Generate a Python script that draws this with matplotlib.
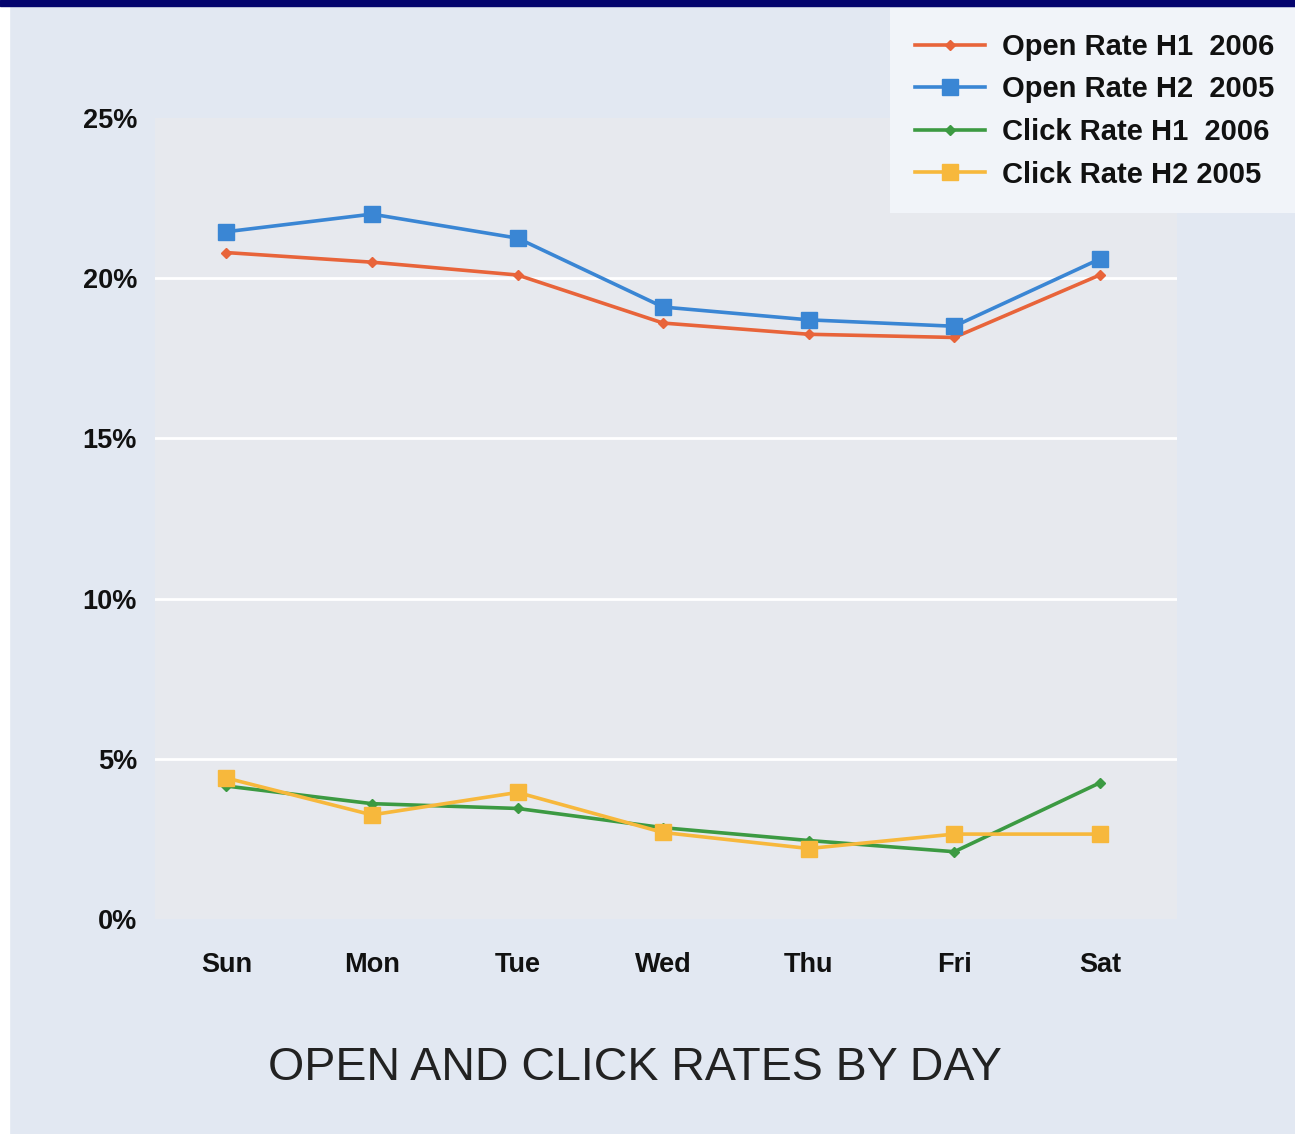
import matplotlib
matplotlib.use("Agg")
import matplotlib.pyplot as plt
from matplotlib.patches import Rectangle
from matplotlib.ticker import FuncFormatter

days = ["Sun", "Mon", "Tue", "Wed", "Thu", "Fri", "Sat"]
open_h1_2006 = [20.8, 20.5, 20.1, 18.6, 18.25, 18.15, 20.1]
open_h2_2005 = [21.45, 22.0, 21.25, 19.1, 18.7, 18.5, 20.6]
click_h1_2006 = [4.15, 3.6, 3.45, 2.85, 2.45, 2.1, 4.25]
click_h2_2005 = [4.4, 3.25, 3.95, 2.7, 2.2, 2.65, 2.65]
labels = ["Open Rate H1  2006", "Open Rate H2  2005", "Click Rate H1  2006", "Click Rate H2 2005"]
yticks = [0, 5, 10, 15, 20, 25]
title = "OPEN AND CLICK RATES BY DAY"

plt.rcParams['font.family'] = ['Liberation Sans', 'DejaVu Sans']

fig = plt.figure(figsize=(12.95, 11.34), dpi=100)
fig.patch.set_facecolor('#e2e8f2')

# decorative frame
fig.add_artist(Rectangle((0, 0), 9/1295, 1, transform=fig.transFigure, color='white', zorder=0))
fig.add_artist(Rectangle((0, 1 - 6/1134), 1, 6/1134, transform=fig.transFigure, color='#04046e', zorder=10))

ax = fig.add_axes([155/1295, 1 - 919/1134, (1177-155)/1295, (919-118)/1134])
ax.set_facecolor('#e7e9ee')
x = list(range(len(days)))

ax.plot(x, open_h1_2006, color='#e8643a', lw=2.6, marker='D', ms=5, label=labels[0], zorder=3)
ax.plot(x, open_h2_2005, color='#3a86d4', lw=2.6, marker='s', ms=11, label=labels[1], zorder=3)
ax.plot(x, click_h1_2006, color='#3c9a42', lw=2.6, marker='D', ms=5, label=labels[2], zorder=3)
ax.plot(x, click_h2_2005, color='#f7b83c', lw=2.6, marker='s', ms=11, label=labels[3], zorder=3)

ax.set_xlim(-0.49, 6.53)
ax.set_ylim(0, 25)
ax.set_yticks(yticks)
ax.yaxis.set_major_formatter(FuncFormatter(lambda v, p: f"{int(v)}%"))
ax.set_xticks(x)
ax.set_xticklabels(days)
for s in ax.spines.values():
    s.set_visible(False)
ax.tick_params(axis='y', length=0, pad=13, labelsize=19.5)
ax.tick_params(axis='x', length=0, pad=24, labelsize=19.5)
for lab in ax.get_xticklabels() + ax.get_yticklabels():
    lab.set_fontweight('bold')
    lab.set_color('#111111')

for g in [5, 10, 15, 20]:
    ax.axhline(g, color='white', lw=2, zorder=1)

leg = fig.legend(loc='upper left', bbox_to_anchor=(890/1295, 1 - 8/1134),
                 bbox_transform=fig.transFigure, fontsize=21, frameon=True,
                 handlelength=2.4, handletextpad=0.6, labelspacing=0.5,
                 borderpad=0.85, borderaxespad=0, fancybox=False)
leg.get_frame().set_facecolor('#f1f4f9')
leg.get_frame().set_edgecolor('none')
leg.get_frame().set_alpha(1)
for t in leg.get_texts():
    t.set_fontweight('bold')
    t.set_color('#111111')

fig.text(635/1295, 1 - 1068/1134, title, ha='center', va='center', fontsize=33.5, color='#222222')

fig.savefig('out.png', dpi=100, facecolor=fig.get_facecolor())
